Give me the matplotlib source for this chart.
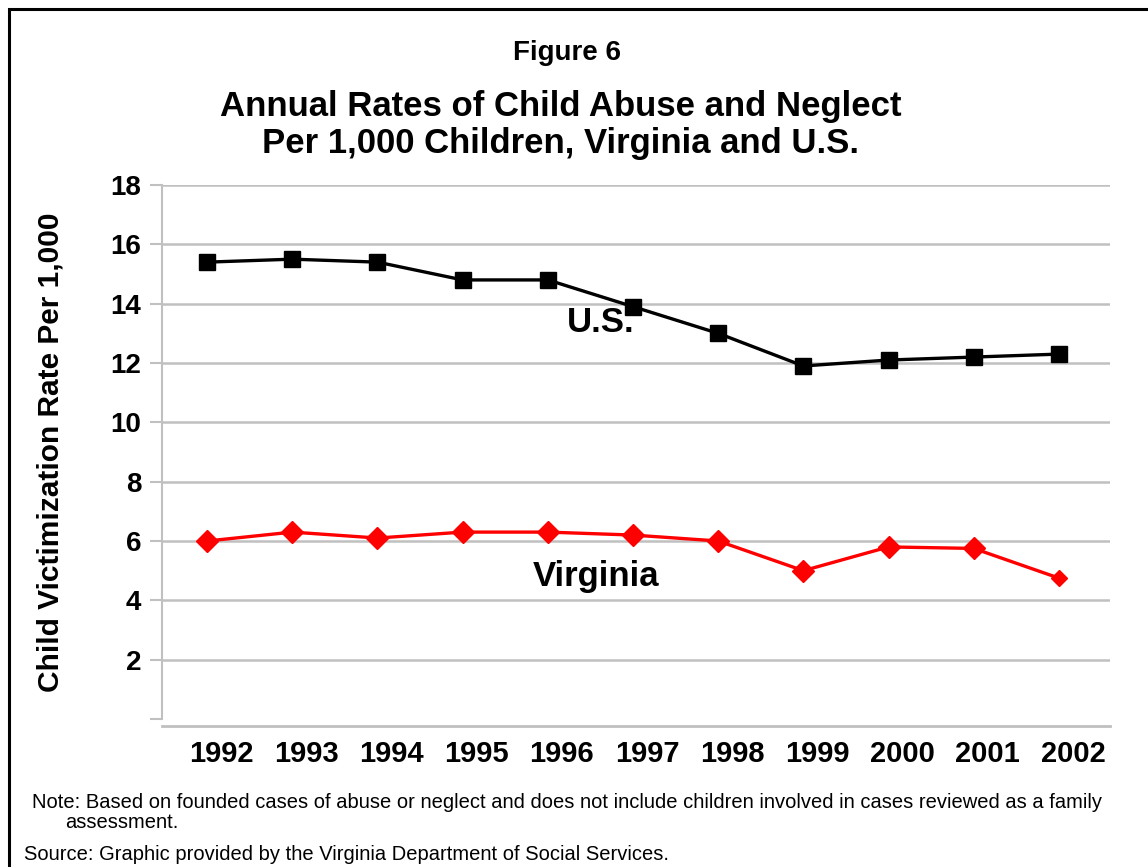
import matplotlib.pyplot as plt
import matplotlib.transforms as mtransforms
import numpy as np

plt.rcParams['font.family'] = ['Liberation Sans', 'DejaVu Sans']

# data
years = ['1992', '1993', '1994', '1995', '1996', '1997', '1998', '1999', '2000', '2001', '2002']
us_rate = [15.4, 15.5, 15.4, 14.8, 14.8, 13.9, 13.0, 11.9, 12.1, 12.2, 12.3]
va_rate = [6.0, 6.3, 6.1, 6.3, 6.3, 6.2, 6.0, 5.0, 5.8, 5.75, 4.75]
y_ticks = [0, 2, 4, 6, 8, 10, 12, 14, 16, 18]

fig = plt.figure(figsize=(11.48, 8.67), dpi=100)
ax = fig.add_axes([162/1148, 1 - 719/867, (1110 - 162)/1148, (719 - 185)/867])

x = np.arange(len(years))
grid_col = '#c0c0c0'

# spine position first - it resets the tick settings
for s in ['top', 'right']:
    ax.spines[s].set_visible(False)
ax.spines['left'].set_color(grid_col)
ax.spines['left'].set_linewidth(1.5)
ax.spines['bottom'].set_color(grid_col)
ax.spines['bottom'].set_linewidth(2)
ax.spines['bottom'].set_position(('outward', 5))

ax.plot(x, us_rate, color='black', linewidth=2.4, marker='s', markersize=12, zorder=3)
ax.plot(x[:-1], va_rate[:-1], color='red', linewidth=2.4, marker='D', markersize=11, zorder=3)
ax.plot(x[-2:], va_rate[-2:], color='red', linewidth=2.4, zorder=3)
ax.plot(x[-1:], va_rate[-1:], color='red', marker='D', markersize=8, linestyle='none', zorder=3)

ax.set_xlim(-0.53, 10.6)
ax.set_ylim(0, 18)
ax.set_yticks(y_ticks)
ax.set_yticklabels([''] + [str(t) for t in y_ticks[1:]], fontsize=20, fontweight='bold')
ax.set_xticks(x)
ax.set_xticklabels(years, fontsize=21, fontweight='bold')
ax.tick_params(axis='x', length=0, pad=10)
ax.tick_params(axis='y', length=9, width=1.5, color=grid_col, pad=6)

# year labels sit a little right of the points, like the original 3D-ish chart
shift = mtransforms.ScaledTranslation(14/100, 0, fig.dpi_scale_trans)
for lab in ax.get_xticklabels():
    lab.set_transform(lab.get_transform() + shift)

ax.grid(axis='y', color=grid_col, linewidth=1.8)
ax.yaxis.get_gridlines()[0].set_visible(False)
ax.set_axisbelow(True)

ax.set_ylabel('Child Victimization Rate Per 1,000', fontsize=21.5, fontweight='bold', labelpad=33)

ax.text(4.62, 13.35, 'U.S.', fontsize=25, fontweight='bold', ha='center', va='center')
ax.text(4.57, 4.8, 'Virginia', fontsize=25, fontweight='bold', ha='center', va='center')

fig.text(567/1148, 1 - 53/867, 'Figure 6', fontsize=20, fontweight='bold', ha='center', va='center')
fig.text(561/1148, 1 - 125/867, 'Annual Rates of Child Abuse and Neglect\nPer 1,000 Children, Virginia and U.S.',
         fontsize=25, fontweight='bold', ha='center', va='center', linespacing=1.15)

fig.text(32/1148, 1 - 802/867, 'Note: Based on founded cases of abuse or neglect and does not include children involved in cases reviewed as a family',
         fontsize=14.5, ha='left', va='center')
fig.text(65/1148, 1 - 822/867, 'assessment.', fontsize=14.5, ha='left', va='center')
fig.text(24/1148, 1 - 854/867, 'Source: Graphic provided by the Virginia Department of Social Services.',
         fontsize=14.5, ha='left', va='center')

# frame around the whole graphic
fig.add_artist(plt.Rectangle((9/1148, -0.05), 1.2, 1 - 9/867 + 0.05, transform=fig.transFigure,
                             fill=False, edgecolor='black', linewidth=2.2))

fig.savefig('out.png', dpi=100)
